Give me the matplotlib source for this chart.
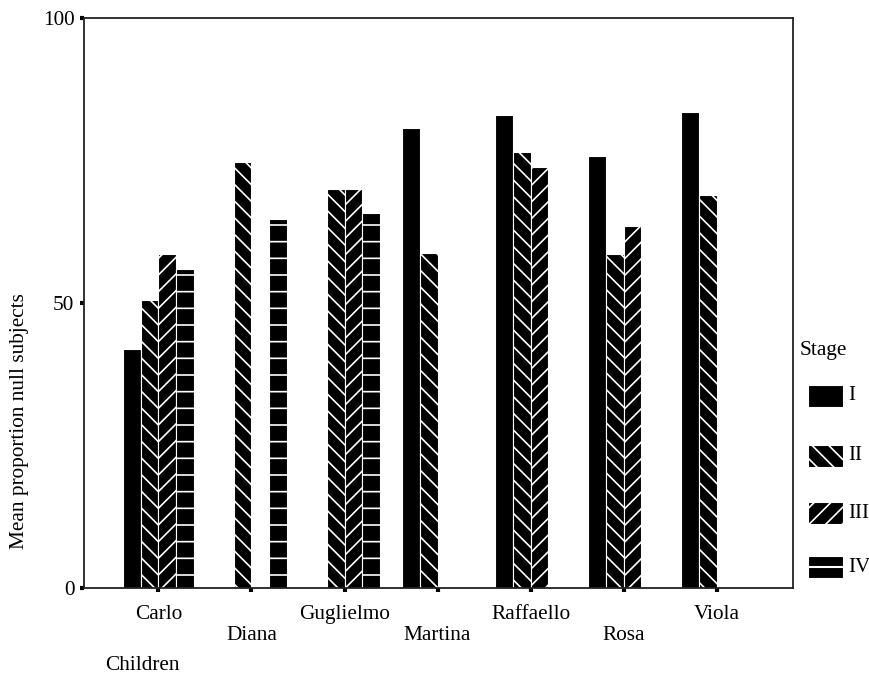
import numpy as np
import matplotlib
matplotlib.use("Agg")
import matplotlib.pyplot as plt
from matplotlib.patches import Rectangle
from matplotlib.lines import Line2D

plt.rcParams['font.family'] = ['Liberation Serif', 'DejaVu Serif']
plt.rcParams['hatch.linewidth'] = 1.2

children = ['Carlo', 'Diana', 'Guglielmo', 'Martina', 'Raffaello', 'Rosa', 'Viola']
stages = ['I', 'II', 'III', 'IV']
nan = np.nan
stage_I = [42, nan, nan, 80.7, 83, 75.8, 83.5]
stage_II = [50.5, 74.7, 70, 58.8, 76.5, 58.6, 68.9]
stage_III = [58.6, nan, 70, nan, 73.9, 63.5, nan]
stage_IV = [56, 64.7, 65.8, nan, nan, nan, nan]
series = [stage_I, stage_II, stage_III, stage_IV]
hatches = ['', '\\\\', '//', '-']
fs = 15.3

fig = plt.figure(figsize=(8.7, 6.74), dpi=100)
ax = fig.add_axes([84/870, 1-588/674, (793-84)/870, (588-18)/674])

x = np.arange(len(children))
w = 0.19
for i, (vals, h) in enumerate(zip(series, hatches)):
    vals = np.array(vals, dtype=float)
    ok = ~np.isnan(vals)
    ax.bar(x[ok] + (i - 1.5) * w, vals[ok], width=w, color='black',
           edgecolor='white', linewidth=0.8, hatch=h)

ax.set_xlim(-0.8, 6.82)
ax.set_ylim(0, 100)
ax.set_yticks([0, 50, 100])
ax.set_xticks(x)
ax.set_xticklabels([c if k % 2 == 0 else '\n' + c for k, c in enumerate(children)],
                   fontsize=fs)
ax.tick_params(axis='both', direction='out', length=3, width=3, labelsize=fs)
ax.tick_params(axis='x', pad=9)
ax.tick_params(axis='y', pad=4)
for s in ax.spines.values():
    s.set_linewidth(1.3)
    s.set_color('#222222')

fig.text(20/870, 1-421/674, 'Mean proportion null subjects', rotation=90,
         ha='center', va='center', fontsize=fs)
fig.text(105/870, 1-665/674, 'Children', ha='left', va='center', fontsize=fs)

# legend
fig.text(800/870, 1-350/674, 'Stage', ha='left', va='center', fontsize=fs)
leg_y = [396, 456, 513, 567]
for st, h, yc in zip(stages, hatches, leg_y):
    r = Rectangle((808/870, 1-(yc+11)/674), 35/870, 22/674, transform=fig.transFigure,
                  facecolor='black', edgecolor='white', linewidth=0.8,
                  hatch=h if h != '-' else '')
    fig.add_artist(r)
    if h == '-':
        fig.add_artist(Line2D([808/870, 843/870], [1-yc/674, 1-yc/674],
                              transform=fig.transFigure, color='white', linewidth=1.5))
    fig.text(848/870, 1-yc/674, st, ha='left', va='center', fontsize=fs)

fig.savefig('out.png', dpi=100)
